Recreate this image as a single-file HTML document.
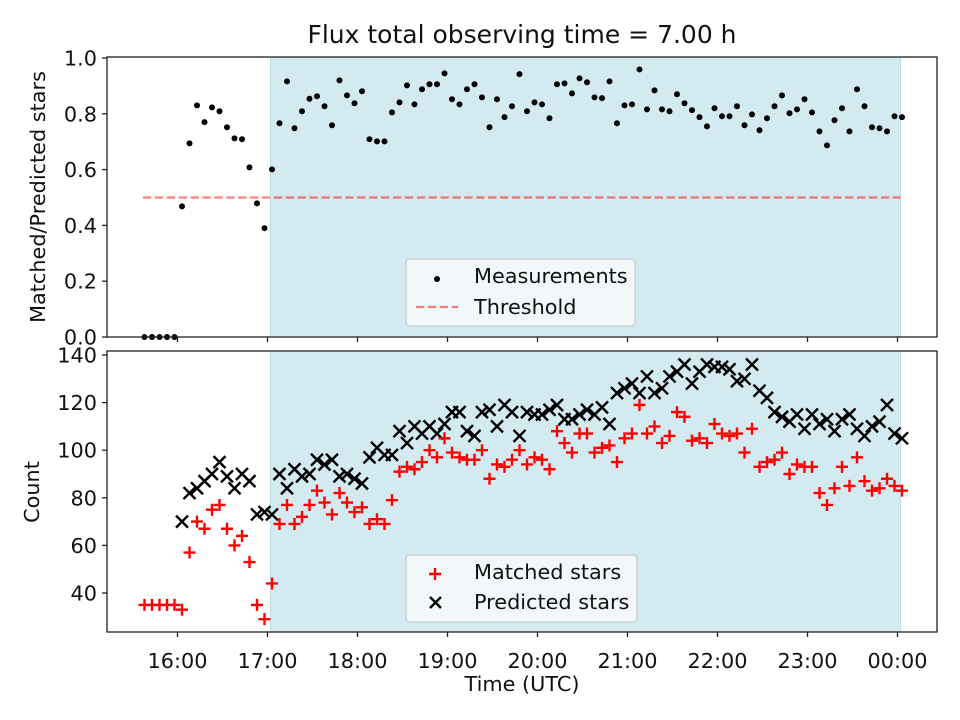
<!DOCTYPE html>
<html><head><meta charset="utf-8">
<style>
html,body{margin:0;padding:0;background:#fff;}
svg{display:block;font-family:"DejaVu Sans","Liberation Sans",sans-serif;}
</style></head>
<body>
<svg id="chart" width="960" height="720" viewBox="0 0 960 720"></svg>
<script>
// minutes since 16:00 UTC
const times = [-22,-17,-12,-7,-2,3,8,13,18,23,28,33,38,43,48,53,58,63,68,73,78,83,88,93,98,103,108,113,118,123,128,133,138,143,148,153,158,163,168,173,178,183,188,193,198,203,208,213,218,223,228,233,238,243,248,253,258,263,268,273,278,283,288,293,298,303,308,313,318,323,328,333,338,343,348,353,358,363,368,373,378,383,388,393,398,403,408,413,418,423,428,433,438,443,448,453,458,463,468,473,478,483];
const ratio = [0,0,0,0,0,0.468,0.694,0.830,0.770,0.823,0.809,0.752,0.712,0.709,0.608,0.479,0.390,0.601,0.766,0.916,0.748,0.809,0.854,0.863,0.827,0.759,0.920,0.866,0.838,0.881,0.709,0.701,0.701,0.805,0.841,0.902,0.834,0.888,0.906,0.906,0.945,0.852,0.834,0.888,0.906,0.859,0.752,0.852,0.788,0.827,0.942,0.809,0.841,0.834,0.784,0.906,0.909,0.873,0.927,0.913,0.859,0.856,0.916,0.766,0.830,0.834,0.959,0.816,0.884,0.816,0.809,0.870,0.838,0.813,0.788,0.755,0.820,0.791,0.791,0.827,0.759,0.798,0.741,0.784,0.827,0.866,0.802,0.816,0.852,0.805,0.737,0.687,0.777,0.820,0.737,0.888,0.827,0.752,0.748,0.737,0.791,0.788];
const predicted = [null,null,null,null,null,70,82,84,87,90,95,89,84,90,87,73,74,73,90,84,92,89,90,96,94,96,89,90,88,86,97,101,98,98,108,103,110,107,110,107,111,116,116,108,106,116,117,110,119,116,106,116,115,115,117,119,113,113,115,117,115,118,111,124,126,128,124,131,124,126,131,133,136,128,133,136,135,135,134,129,130,136,125,122,116,114,112,115,109,115,111,113,108,113,115,109,106,110,112,119,107,105];
const matched = [35,35,35,35,35,33,57,70,67,75,77,67,60,64,53,35,29,44,69,77,69,72,77,83,78,73,82,78,74,76,69,71,69,79,91,93,92,95,100,97,105,99,97,96,96,100,88,94,93,96,100,94,97,96,92,108,103,99,107,107,99,101,102,95,105,107,119,107,110,103,106,116,114,104,105,103,111,107,106,107,99,109,93,95,96,99,90,94,93,93,82,77,84,93,85,97,87,83,84,88,85,83];
const threshold = [0.5];
const thresholdRange = [-23, 482];
const shadeRange = [62, 482];
const xTickMinutes = [0,60,120,180,240,300,360,420,480];
const xTickLabels = ["16:00","17:00","18:00","19:00","20:00","21:00","22:00","23:00","00:00"];
const topTicks = [0,0.2,0.4,0.6,0.8,1.0];
const topTickLabels = ["0.0","0.2","0.4","0.6","0.8","1.0"];
const botTicks = [40,60,80,100,120,140];
const botTickLabels = ["40","60","80","100","120","140"];

const NS = "http://www.w3.org/2000/svg";
const svg = document.getElementById('chart');
const L = 107, R = 937, T1 = 57, B1 = 337, T2 = 351, B2 = 632;
const FS = 20.8;
const xs = m => 177.5 + m * 1.5;
const yTop = v => 337 - v * 279;
const yBot = c => 593 - (c - 40) * 2.38;

function mk(tag, attrs, parent) {
  const e = document.createElementNS(NS, tag);
  for (const k in attrs) e.setAttribute(k, attrs[k]);
  (parent || svg).appendChild(e);
  return e;
}
function txt(s, attrs, parent) { const e = mk('text', attrs, parent); e.textContent = s; return e; }

[[T1,B1,'top'],[T2,B2,'bottom']].forEach(([t,b,n]) => {
  const g = mk('g', {});
  
  
  const sh = mk('rect', {x: xs(shadeRange[0]), y: t, width: xs(shadeRange[1]) - xs(shadeRange[0]), height: b - t, fill: '#d4eaf1', stroke: '#bfdde6', 'stroke-width': 1}, g);
  
  
});

const th = mk('line', {x1: xs(thresholdRange[0]), x2: xs(thresholdRange[1]), y1: yTop(threshold[0]), y2: yTop(threshold[0]), stroke: '#ff0000', 'stroke-opacity': 0.5, 'stroke-width': 2.2, 'stroke-dasharray': '8.3 3.6'});



const gm = mk('g', {fill: '#000'});


times.forEach((t, i) => {
  const c = mk('circle', {cx: xs(t), cy: yTop(ratio[i]), r: 3}, gm);
  
  
});

const clip = mk('clipPath', {id: 'botclip'});
mk('rect', {x: L, y: T2, width: R - L, height: B2 - T2}, clip);
const gp = mk('g', {stroke: '#000', 'stroke-width': 2.4, 'clip-path': 'url(#botclip)'});


times.forEach((t, i) => {
  if (predicted[i] === null) return;
  const x = xs(t), y = yBot(predicted[i]), s = 6;
  const p = mk('path', {d: `M${x-s},${y-s}L${x+s},${y+s}M${x-s},${y+s}L${x+s},${y-s}`}, gp);
  
  
});
const gr = mk('g', {stroke: '#ff0000', 'stroke-width': 2.4, 'clip-path': 'url(#botclip)'});


times.forEach((t, i) => {
  const x = xs(t), y = yBot(matched[i]), s = 6;
  const p = mk('path', {d: `M${x-s},${y}L${x+s},${y}M${x},${y-s}L${x},${y+s}`}, gr);
  
  
});

[[T1,B1,'top'],[T2,B2,'bottom']].forEach(([t,b,n]) => {
  const f = mk('rect', {x: L, y: t, width: R - L, height: b - t, fill: 'none', stroke: '#222', 'stroke-width': 1.3});
  
  
  xTickMinutes.forEach(m => {
    const tk = mk('line', {x1: xs(m), x2: xs(m), y1: b, y2: b + 5, stroke: '#222', 'stroke-width': 1.3});
    
    
  });
});
xTickLabels.forEach((s, i) => {
  const e = txt(s, {x: xs(xTickMinutes[i]), y: 668, 'font-size': FS, 'text-anchor': 'middle', fill: '#111'});
  
  
});
topTicks.forEach((v, i) => {
  const tk = mk('line', {x1: L - 5, x2: L, y1: yTop(v), y2: yTop(v), stroke: '#222', 'stroke-width': 1.3});
  
  
  const e = txt(topTickLabels[i], {x: 97, y: yTop(v) + 7.5, 'font-size': FS, 'text-anchor': 'end', fill: '#111'});
  
  
});
botTicks.forEach((v, i) => {
  const tk = mk('line', {x1: L - 5, x2: L, y1: yBot(v), y2: yBot(v), stroke: '#222', 'stroke-width': 1.3});
  
  
  const e = txt(botTickLabels[i], {x: 97, y: yBot(v) + 7.5, 'font-size': FS, 'text-anchor': 'end', fill: '#111'});
  
  
});

let e;
e = txt('Flux total observing time = 7.00 h', {x: 522, y: 43, 'font-size': 25, 'text-anchor': 'middle', fill: '#111'});


e = txt('Time (UTC)', {x: 522, y: 691, 'font-size': FS, 'text-anchor': 'middle', fill: '#111'});


e = txt('Matched/Predicted stars', {x: 0, y: 0, 'font-size': FS, 'text-anchor': 'middle', fill: '#111', transform: 'translate(45,197) rotate(-90)'});


e = txt('Count', {x: 0, y: 0, 'font-size': FS, 'text-anchor': 'middle', fill: '#111', transform: 'translate(39,492) rotate(-90)'});



const lg1 = mk('g', {});


mk('rect', {x: 406, y: 259, width: 229, height: 67, rx: 4, fill: '#f5f9fb', 'fill-opacity': 0.9, stroke: '#ccc', 'stroke-width': 1.3}, lg1);
mk('circle', {cx: 437, cy: 279, r: 3, fill: '#000'}, lg1);
mk('line', {x1: 416, x2: 458, y1: 307, y2: 307, stroke: '#ff0000', 'stroke-opacity': 0.5, 'stroke-width': 2.2, 'stroke-dasharray': '8.3 3.6'}, lg1);
e = txt('Measurements', {x: 474, y: 283, 'font-size': FS, fill: '#111'}, lg1);


e = txt('Threshold', {x: 474, y: 314, 'font-size': FS, fill: '#111'}, lg1);



const lg2 = mk('g', {});


mk('rect', {x: 406, y: 555, width: 231, height: 67, rx: 4, fill: '#f5f9fb', 'fill-opacity': 0.9, stroke: '#ccc', 'stroke-width': 1.3}, lg2);
mk('path', {d: 'M429,574L441,574M435,568L435,580', stroke: '#ff0000', 'stroke-width': 2.4}, lg2);
mk('path', {d: 'M430,597L441,608M430,608L441,597', stroke: '#000', 'stroke-width': 2.4}, lg2);
e = txt('Matched stars', {x: 474, y: 579, 'font-size': FS, fill: '#111'}, lg2);


e = txt('Predicted stars', {x: 474, y: 609, 'font-size': FS, fill: '#111'}, lg2);


</script>
</body></html>
